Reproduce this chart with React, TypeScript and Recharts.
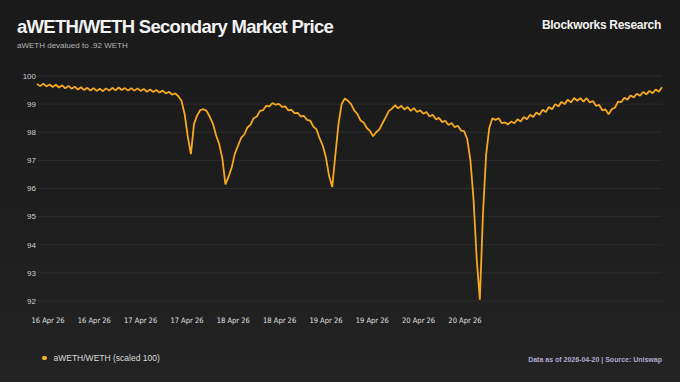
import React from "react";
import { CartesianGrid, Line, LineChart, XAxis, YAxis } from "recharts";

// aWETH/WETH price, scaled to 100 at even steps
const prices = [
  99.72, 99.64, 99.73, 99.63, 99.70, 99.61, 99.69, 99.59, 99.67,
  99.56, 99.65, 99.55, 99.62, 99.52, 99.60, 99.50, 99.58, 99.48, 99.57, 99.47,
  99.55, 99.46, 99.56, 99.48, 99.58, 99.49, 99.59, 99.50, 99.57, 99.48,
  99.57, 99.48, 99.56, 99.47, 99.54, 99.44, 99.52, 99.43, 99.50, 99.41, 99.48,
  99.38, 99.44, 99.34,
  99.38, 99.28, 99.12, 98.65, 97.85, 97.22, 98.30, 98.60, 98.79, 98.82,
  98.76, 98.55, 98.31, 97.90, 97.58, 97.08, 96.15, 96.42, 96.75, 97.24,
  97.52, 97.80, 97.92, 98.17, 98.27, 98.50, 98.56, 98.76, 98.79, 98.94,
  98.92, 99.04, 98.98, 99.01, 98.90, 98.92, 98.78, 98.80, 98.68, 98.69,
  98.56, 98.58, 98.44, 98.41, 98.20, 98.10, 97.78, 97.52, 97.10, 96.45,
  96.05, 97.20, 98.30, 99.00, 99.20, 99.12, 99.00, 98.78, 98.65, 98.42,
  98.35, 98.15, 98.05, 97.86, 98.00, 98.10, 98.32, 98.53, 98.75, 98.84,
  98.96, 98.85, 98.94, 98.81, 98.90, 98.76, 98.86, 98.72, 98.78, 98.66,
  98.72, 98.56, 98.62, 98.46, 98.51, 98.36, 98.41, 98.26, 98.33, 98.18,
  98.23, 98.06, 98.04, 97.75, 97.00, 95.60, 93.50, 92.05, 95.10, 97.20,
  98.15, 98.50, 98.44, 98.50, 98.32, 98.35, 98.28, 98.38, 98.32, 98.46,
  98.38, 98.54, 98.46, 98.62, 98.54, 98.70, 98.62, 98.80, 98.72, 98.90,
  98.82, 99.00, 98.92, 99.08, 99.00, 99.16, 99.06, 99.22, 99.12, 99.21,
  99.09, 99.21, 99.06, 99.11, 98.94, 98.97, 98.78, 98.81, 98.64, 98.82,
  98.87, 99.09, 99.07, 99.23, 99.16, 99.31, 99.24, 99.37, 99.30, 99.43,
  99.35, 99.47, 99.39, 99.52, 99.44, 99.60,
];

const tickPositions = [3.5, 18.25, 33, 47.75, 62.5, 77.25, 92, 106.75, 121.5, 136.25];
const tickLabels = [
  "16 Apr 26", "16 Apr 26", "17 Apr 26", "17 Apr 26", "18 Apr 26",
  "18 Apr 26", "19 Apr 26", "19 Apr 26", "20 Apr 26", "20 Apr 26",
];
const yTicks = [92, 93, 94, 95, 96, 97, 98, 99, 100];

const data = prices.map((v, i) => ({ i, v }));

const sans = "'Liberation Sans', Arial, Helvetica, sans-serif";

const App = () => {
  return (
    <div
      style={{
        position: "absolute",
        left: 0,
        top: 0,
        width: 680,
        height: 382,
        overflow: "hidden",
        background: "linear-gradient(180deg, #1a1a1a 0%, #1e1e1e 60%, #232323 100%)",
        fontFamily: sans,
      }}
    >
      <div
        style={{
          position: "absolute",
          left: 17,
          top: 18.3,
          fontSize: 18.5,
          lineHeight: 1,
          fontWeight: "bold",
          color: "#f2f2f2",
          letterSpacing: -0.7,
          whiteSpace: "nowrap",
        }}
      >
        aWETH/WETH Secondary Market Price
      </div>
      <div
        style={{
          position: "absolute",
          left: 17,
          top: 42.2,
          fontSize: 8,
          lineHeight: 1,
          color: "#b5b5b5",
          whiteSpace: "nowrap",
        }}
      >
        aWETH devalued to .92 WETH
      </div>
      <div
        style={{
          position: "absolute",
          right: 19,
          top: 18.8,
          fontSize: 12,
          lineHeight: 1,
          fontWeight: "bold",
          color: "#f2f2f2",
          letterSpacing: -0.3,
          whiteSpace: "nowrap",
        }}
      >
        Blockworks Research
      </div>

      <div style={{ position: "absolute", left: 0, top: 0 }}>
        <LineChart
          width={680}
          height={382}
          data={data}
          margin={{ top: 76, right: 18, bottom: 51, left: 0 }}
        >
          <CartesianGrid vertical={false} stroke="#2c2c2c" />
          <XAxis
            dataKey="i"
            type="number"
            domain={[0, prices.length - 1]}
            ticks={tickPositions}
            interval={0}
            tickFormatter={(v: number) => tickLabels[tickPositions.indexOf(v)]}
            axisLine={false}
            tickLine={false}
            tickSize={0}
            tickMargin={17}
            height={30}
            tick={{
              fill: "#e0e0e0",
              fontSize: 7.5,
              fontFamily: "'Liberation Sans Narrow', 'DejaVu Sans Condensed', sans-serif",
            }}
          />
          <YAxis
            domain={[92, 100]}
            ticks={yTicks}
            interval={0}
            width={37}
            axisLine={false}
            tickLine={false}
            tickSize={0}
            tickMargin={1}
            tick={{ fill: "#cfcfcf", fontSize: 8, fontFamily: sans }}
          />
          <Line
            type="linear"
            dataKey="v"
            stroke="#f6a821"
            strokeWidth={1.8}
            strokeLinejoin="bevel"
            dot={false}
            isAnimationActive={false}
          />
        </LineChart>
      </div>

      <div
        style={{
          position: "absolute",
          left: 42,
          top: 353.5,
          display: "flex",
          alignItems: "center",
          fontSize: 8.5,
          lineHeight: 1,
          color: "#dadada",
          whiteSpace: "nowrap",
        }}
      >
        <span
          style={{
            display: "inline-block",
            width: 4.5,
            height: 4.5,
            borderRadius: "50%",
            background: "#f6b42a",
            marginRight: 7,
          }}
        />
        aWETH/WETH (scaled 100)
      </div>
      <div
        style={{
          position: "absolute",
          right: 18,
          top: 356,
          fontSize: 7,
          lineHeight: 1,
          fontWeight: "bold",
          color: "#aeaacd",
          whiteSpace: "nowrap",
        }}
      >
        Data as of 2026-04-20 | Source: Uniswap
      </div>
    </div>
  );
};

export default App;
